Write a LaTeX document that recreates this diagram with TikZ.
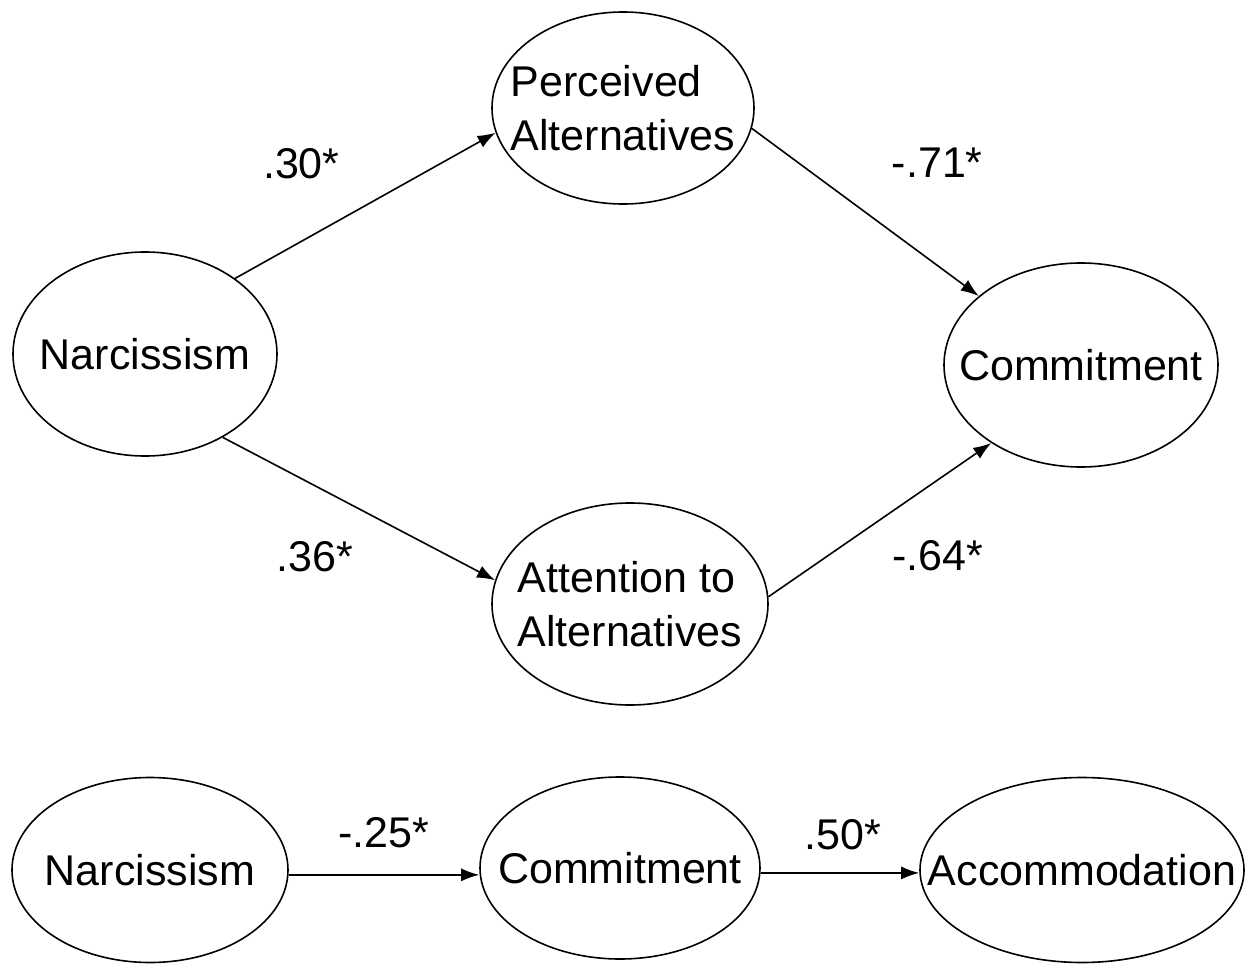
\documentclass[tikz,border=0pt]{standalone}
\usepackage{fontspec}
\setmainfont{Liberation Sans}
\usetikzlibrary{shapes.geometric,arrows.meta}

\begin{document}
\begin{tikzpicture}[x=0.5pt,y=-0.5pt,>={Latex[length=9pt,width=6.5pt]},
    latent/.style={ellipse,draw,line width=0.8pt,inner xsep=-30pt,inner ysep=0pt,align=left,font=\fontsize{21.5}{27}\selectfont},
    effect/.style={->,line width=0.8pt},
    coef/.style={inner sep=0pt,font=\fontsize{21.5}{26}\selectfont}]
    \useasboundingbox (0,0) rectangle (1255,964);
        \path

        % mediation model
        +(145,354)  node[latent,minimum width=132pt,minimum height=102pt]  (nar) {Narcissism}
        +(623,108)  node[latent,minimum width=131pt,minimum height=96pt]   (pa)  {Perceived\\Alternatives}
        +(630,604)  node[latent,minimum width=138pt,minimum height=101pt]  (att) {Attention to\\Alternatives}
        +(1081,365) node[latent,minimum width=137pt,minimum height=102pt]  (com) {Commitment}
        % accommodation model
        +(150,870)  node[latent,minimum width=138pt,minimum height=92.5pt] (nartwo) {Narcissism}
        +(620,868)  node[latent,minimum width=140pt,minimum height=91pt]   (comtwo) {Commitment}
        +(1082,870) node[latent,minimum width=162pt,minimum height=92.5pt] (acc) {Accommodation};

        \draw[effect] (nar.40)--(pa.191) node[coef,midway,xshift=-32pt,yshift=21pt] (wpa) {.30*};
        \draw[effect] (nar.-47)--(att.170) node[coef,midway,xshift=-22pt,yshift=-24pt] (watt) {.36*};
        \draw[effect] (pa.-9)--(com.146) node[coef,midway,xshift=36pt,yshift=25pt] (wpacom) {-.71*};
        \draw[effect] (att.3)--(com.221) node[coef,midway,xshift=29pt,yshift=-18pt] (wattcom) {-.64*};

        \draw[effect] (nartwo.-2)--(comtwo.west|-nartwo.-2) node[coef,midway,yshift=21pt] (wcom) {-.25*};
        \draw[effect] (comtwo.-2)--(acc.west|-comtwo.-2) node[coef,midway,xshift=1.5pt,yshift=19pt] (wacc) {.50*};
    \end{tikzpicture}
\end{document}
